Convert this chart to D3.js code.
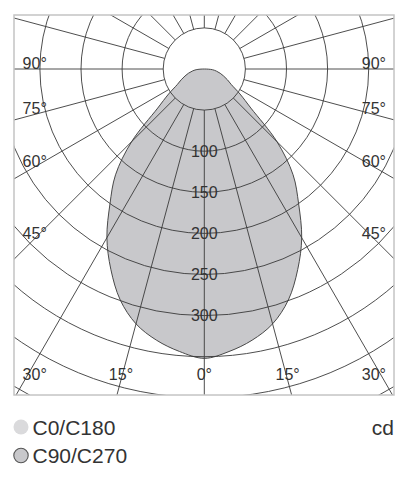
<!DOCTYPE html>
<html>
<head>
<meta charset="utf-8">
<script src="https://cdn.jsdelivr.net/npm/d3@7"></script>
<style>
  html, body { margin: 0; padding: 0; background: #fff; }
  svg { display: block; }
  text { font-family: "Liberation Sans", Arial, Helvetica, sans-serif; fill: #333; }
</style>
</head>
<body>
<svg id="chart" width="411" height="480"></svg>
<script>
// ---- data ----
const gammaAngles = [0, 5, 10, 15, 20, 25, 30, 35, 40, 45, 50, 55, 60, 65, 70, 75, 80, 85, 90];
const c0c180 =      [352, 345, 335, 321, 299, 269, 237, 200, 168, 125, 74, 53, 38, 31, 25, 20, 15, 10, 0];
const c90c270 =     [352, 345, 335, 321, 299, 269, 237, 200, 168, 125, 74, 53, 38, 31, 25, 20, 15, 10, 0];
const ringValues = [50, 100, 150, 200, 250, 300, 350, 400, 450, 500, 550];
const ringLabels = [100, 150, 200, 250, 300];
const spokeAngles = d3.range(0, 360, 15);
const sideLabels = [90, 75, 60, 45];
const bottomLabels = [30, 15, 0];
const legendNames = ["C0/C180", "C90/C270"];
const unitLabel = "cd";

// ---- layout ----
const svg = d3.select("#chart");
const box = { x0: 14, y0: 15, x1: 394, y1: 395 };
const cx = 204.3, cy = 69;
const r = d3.scaleLinear().domain([0, 400]).range([0, 328.8]);
const rad = d => d * Math.PI / 180;

svg.append("defs").append("clipPath").attr("id", "boxclip")
  .append("rect").attr("x", box.x0).attr("y", box.y0)
  .attr("width", box.x1 - box.x0).attr("height", box.y1 - box.y0);

const plot = svg.append("g").attr("clip-path", "url(#boxclip)");
const g = plot.append("g").attr("transform", `translate(${cx},${cy})`);

// closed outline: right side (a = pi - gamma) then left side (a = pi + gamma)
function outline(values) {
  const pts = [];
  for (let i = gammaAngles.length - 1; i >= 0; i--) pts.push([Math.PI - rad(gammaAngles[i]), r(values[i])]);
  for (let i = 1; i < gammaAngles.length - 1; i++) pts.push([Math.PI + rad(gammaAngles[i]), r(values[i])]);
  return pts;
}
const radialLine = d3.lineRadial().angle(d => d[0]).radius(d => d[1])
  .curve(d3.curveCatmullRomClosed.alpha(0.5));

g.append("path").attr("d", radialLine(outline(c0c180)))
  .attr("fill", "#dadadc").attr("stroke", "none");
g.append("path").attr("d", radialLine(outline(c90c270)))
  .attr("fill", "#c8c8cb").attr("stroke", "#4a4a4a").attr("stroke-width", 1);

// grid rings
g.selectAll("circle.ring").data(ringValues).enter().append("circle")
  .attr("class", "ring").attr("r", d => r(d))
  .attr("fill", "none").attr("stroke", "#3a3a3a").attr("stroke-width", 0.9);

// spokes
g.selectAll("line.spoke").data(spokeAngles).enter().append("line")
  .attr("class", "spoke")
  .attr("x1", d => r(50) * Math.sin(rad(d)))
  .attr("y1", d => r(50) * Math.cos(rad(d)))
  .attr("x2", d => r(700) * Math.sin(rad(d)))
  .attr("y2", d => r(700) * Math.cos(rad(d)))
  .attr("stroke", "#3a3a3a").attr("stroke-width", 0.9);

// frame
svg.append("rect").attr("x", box.x0).attr("y", box.y0)
  .attr("width", box.x1 - box.x0).attr("height", box.y1 - box.y0)
  .attr("fill", "none").attr("stroke", "#c4c4c4").attr("stroke-width", 1.5);

// ring labels
svg.selectAll("text.rl").data(ringLabels).enter().append("text")
  .attr("class", "rl").attr("x", cx).attr("y", d => cy + r(d)).attr("dy", "0.36em")
  .attr("text-anchor", "middle").attr("font-size", 16).text(d => d);

// angle labels
const labelDx = cx - 34.7;
sideLabels.forEach(a => {
  const yb = a === 90 ? cy : cy + labelDx / Math.tan(rad(a));
  [-1, 1].forEach(s => {
    svg.append("text").attr("x", cx + s * labelDx).attr("y", yb)
      .attr("text-anchor", "middle").attr("font-size", 16).text(a + "°");
  });
});
const bottomBase = 380;
bottomLabels.forEach(a => {
  const dx = Math.min(labelDx, (bottomBase - cy) * Math.tan(rad(a)));
  const sides = a === 0 ? [1] : [-1, 1];
  sides.forEach(s => {
    svg.append("text").attr("x", cx + s * dx).attr("y", bottomBase)
      .attr("text-anchor", "middle").attr("font-size", 16).text(a + "°");
  });
});

// legend
const legendY = [427, 455.5];
svg.append("circle").attr("cx", 21).attr("cy", legendY[0]).attr("r", 7.5).attr("fill", "#dadadc");
svg.append("circle").attr("cx", 21).attr("cy", legendY[1]).attr("r", 7.2)
  .attr("fill", "#c8c8cb").attr("stroke", "#555").attr("stroke-width", 1.1);
legendNames.forEach((n, i) => {
  svg.append("text").attr("x", 32.5).attr("y", legendY[i] + 7.5)
    .attr("font-size", 21).text(n);
});
svg.append("text").attr("x", 394).attr("y", legendY[0] + 7.5)
  .attr("text-anchor", "end").attr("font-size", 21).text(unitLabel);
</script>
</body>
</html>
